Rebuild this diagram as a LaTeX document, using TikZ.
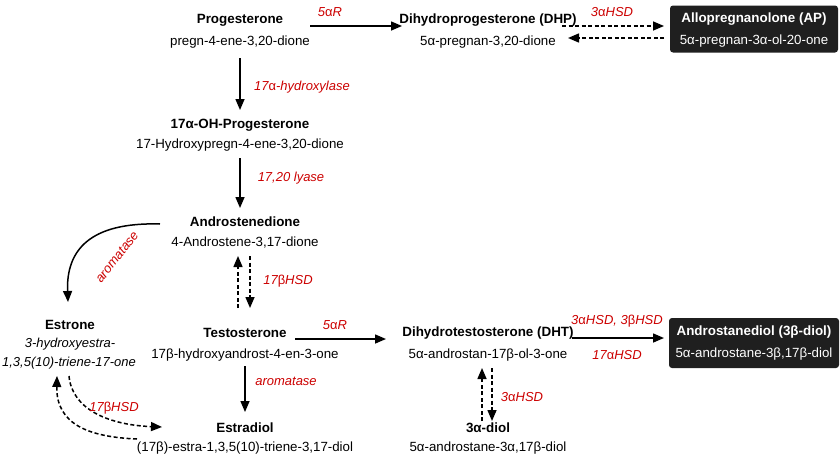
\documentclass[tikz,border=0pt]{standalone}
\usepackage{fontspec}
\setmainfont{Liberation Sans}
\usetikzlibrary{arrows.meta}
\newcommand{\ga}{{\upshape α}}
\newcommand{\gb}{{\upshape β}}
\begin{document}
\begin{tikzpicture}[x=1pt,y=-1pt,
 t/.style={font=\fontsize{13.4}{15}\selectfont\bfseries,inner sep=0pt},
 s/.style={font=\fontsize{13.3}{15}\selectfont,inner sep=0pt},
 e/.style={font=\fontsize{13}{15}\selectfont\itshape,text=red!80!black,inner sep=0pt},
 box/.style={fill=black!88,rounded corners=3pt,text=white,inner sep=0pt},
 ar/.style={line width=1.5pt,-{Triangle[length=11pt,width=9pt]}},
 da/.style={ar,dash pattern=on 4pt off 2.5pt}]
\useasboundingbox (0,0) rectangle (840,458);
% compounds
\node[t] (prog) at (240,20) {Progesterone};
\node[s] (progs) at (240,42) {pregn-4-ene-3,20-dione};
\node[t] (dhp) at (488,20) {Dihydroprogesterone (DHP)};
\node[s] (dhps) at (488,42) {5α-pregnan-3,20-dione};
\node[box,minimum width=168pt,minimum height=47pt] (apbox) at (754,29) {};
\node[t,text=white] (ap) at (754,19) {Allopregnanolone (AP)};
\node[s,text=white] (aps) at (754,41) {5α-pregnan-3α-ol-20-one};
\node[t] (oh) at (240,125) {17α-OH-Progesterone};
\node[s] (ohs) at (240,145) {17-Hydroxypregn-4-ene-3,20-dione};
\node[t] (andro) at (245,222) {Androstenedione};
\node[s] (andros) at (245,243) {4-Androstene-3,17-dione};
\node[t] (estrone) at (70,325) {Estrone};
\node[e,text=black] (es1) at (70,344) {3-hydroxyestra-};
\node[e,text=black] (es2) at (69,363) {1,3,5(10)-triene-17-one};
\node[t] (testo) at (245,333) {Testosterone};
\node[s] (testos) at (245,355) {17β-hydroxyandrost-4-en-3-one};
\node[t] (estradiol) at (245,428) {Estradiol};
\node[s] (estradiols) at (245,448) {(17β)-estra-1,3,5(10)-triene-3,17-diol};
\node[t] (dht) at (488,333) {Dihydrotestosterone (DHT)};
\node[s] (dhts) at (488,355) {5α-androstan-17β-ol-3-one};
\node[box,minimum width=170pt,minimum height=50pt] (adbox) at (754,343) {};
\node[t,text=white] (ad) at (754,332) {Androstanediol (3β-diol)};
\node[s,text=white] (ads) at (754,354) {5α-androstane-3β,17β-diol};
\node[t] (diol) at (488,428) {3α-diol};
\node[s] (diols) at (488,448) {5α-androstane-3α,17β-diol};
% coordinates
\coordinate (a1) at (310,26); \coordinate (a2) at (402,26);
\coordinate (b1) at (562,26); \coordinate (b2) at (664,26);
\coordinate (c1) at (664,38); \coordinate (c2) at (568,38);
\coordinate (d1) at (240,58); \coordinate (d2) at (240,110);
\coordinate (f1) at (240,158); \coordinate (f2) at (240,208);
\coordinate (g1) at (238,308); \coordinate (g2) at (238,256);
\coordinate (h1) at (250,256); \coordinate (h2) at (250,308);
\coordinate (i1) at (160,224); \coordinate (i2) at (68,302);
\coordinate (j1) at (295,339); \coordinate (j2) at (386,339);
\coordinate (k1) at (245,366); \coordinate (k2) at (245,412);
\coordinate (l1) at (69,376); \coordinate (l2) at (162,427);
\coordinate (m1) at (137,439); \coordinate (m2) at (57,376);
\coordinate (n1) at (572,338); \coordinate (n2) at (664,338);
\coordinate (o1) at (482,421); \coordinate (o2) at (482,368);
\coordinate (p1) at (492,368); \coordinate (p2) at (492,421);
% arrows
\draw[ar] (a1) -- (a2);
\draw[da] (b1) -- (b2);
\draw[da] (c1) -- (c2);
\draw[ar] (d1) -- (d2);
\draw[ar] (f1) -- (f2);
\draw[da] (g1) -- (g2);
\draw[da] (h1) -- (h2);
\draw[ar] (i1) .. controls (90,222) and (66,250) .. (i2);
\draw[ar] (j1) -- (j2);
\draw[ar] (k1) -- (k2);
\draw[da] (l1) .. controls (72,410) and (110,425) .. (l2);
\draw[da] (m1) .. controls (90,437) and (56,425) .. (m2);
\draw[ar] (n1) -- (n2);
\draw[da] (o1) -- (o2);
\draw[da] (p1) -- (p2);
% enzyme labels
\node[e] (l5a) at (330,12) {5\ga R};
\node[e] (l3a) at (612,12) {3\ga HSD};
\node[e] (l17h) at (302,87) {17\ga-hydroxylase};
\node[e] (l1720) at (291,178) {17,20 lyase};
\node[e] (l17b) at (288,281) {17\gb HSD};
\node[e,rotate=52] (larom) at (117,257) {aromatase};
\node[e] (l5b) at (335,325) {5\ga R};
\node[e] (larom2) at (286,381) {aromatase};
\node[e] (l17b2) at (114,408) {17\gb HSD};
\node[e] (l3b) at (617,321) {3\ga HSD, 3\gb HSD};
\node[e] (l17a) at (617,355) {17\ga HSD};
\node[e] (l3c) at (522,397) {3\ga HSD};
\end{tikzpicture}
\end{document}
